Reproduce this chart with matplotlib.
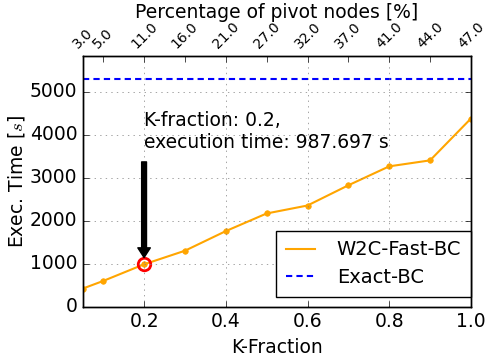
import matplotlib
matplotlib.use("Agg")
import matplotlib.pyplot as plt

plt.style.use("classic")
plt.rcParams["figure.facecolor"] = "white"
plt.rcParams["savefig.facecolor"] = "white"
plt.rcParams["font.family"] = "DejaVu Sans"
plt.rcParams["lines.scale_dashes"] = False

k_fraction = [0.05, 0.1, 0.2, 0.3, 0.4, 0.5, 0.6, 0.7, 0.8, 0.9, 1.0]
w2c_time = [424, 601, 987.697, 1303, 1759, 2169, 2354, 2824, 3264, 3403, 4375]
exact_time = 5294
pivot_pct = [3.0, 5.0, 11.0, 16.0, 21.0, 27.0, 32.0, 37.0, 41.0, 44.0, 47.0]

FS = 13.5

fig = plt.figure(figsize=(4.87, 3.58), dpi=100)
ax = fig.add_axes([0.170, 0.143, 0.797, 0.700])

ax.plot(k_fraction, w2c_time, "-", color="orange", lw=1.5, label="W2C-Fast-BC")
ax.plot(k_fraction, w2c_time, "o", color="orange", ms=4, mec="orange")
ax.axhline(exact_time, color="b", ls="--", dashes=(4.5, 3), lw=1.5,
           label="Exact-BC")

sel_x, sel_y = k_fraction[2], w2c_time[2]
ax.plot([sel_x], [sel_y], "o", ms=9, mfc="none", mec="red", mew=2)
ax.annotate("K-fraction: %.1f,\nexecution time: %.3f s" % (sel_x, sel_y),
            xy=(sel_x, sel_y), xytext=(sel_x, 3600),
            fontsize=FS, ha="left", va="bottom",
            arrowprops=dict(facecolor="black", edgecolor="black",
                            width=3.5, headwidth=9, headlength=7, shrink=0.06))

ax.set_xlim(0.05, 1.0)
ax.set_ylim(0, exact_time * 1.1)
ax.set_xticks([0.2, 0.4, 0.6, 0.8, 1.0])
ax.set_yticks([0, 1000, 2000, 3000, 4000, 5000])
ax.tick_params(labelsize=FS)
ax.grid(True, ls=":", color="gray")
ax.set_xlabel("K-Fraction", fontsize=FS)
ax.set_ylabel("Exec. Time [$s$]", fontsize=FS, labelpad=2)

leg = ax.legend(loc="lower right", bbox_to_anchor=(1.0, 0.04),
                borderaxespad=0.0, fontsize=14, numpoints=1,
                borderpad=0.5, labelspacing=0.45,
                handlelength=1.5, handletextpad=1.1, frameon=True)

top = ax.twiny()
top.set_xlim(ax.get_xlim())
top.set_xticks(k_fraction)
top.set_xticklabels(["%.1f" % p for p in pivot_pct], rotation=45,
                    fontsize=10, ha="center")
top.set_xlabel("Percentage of pivot nodes [%]", fontsize=FS, labelpad=1)

fig.savefig("out.png", dpi=100)
